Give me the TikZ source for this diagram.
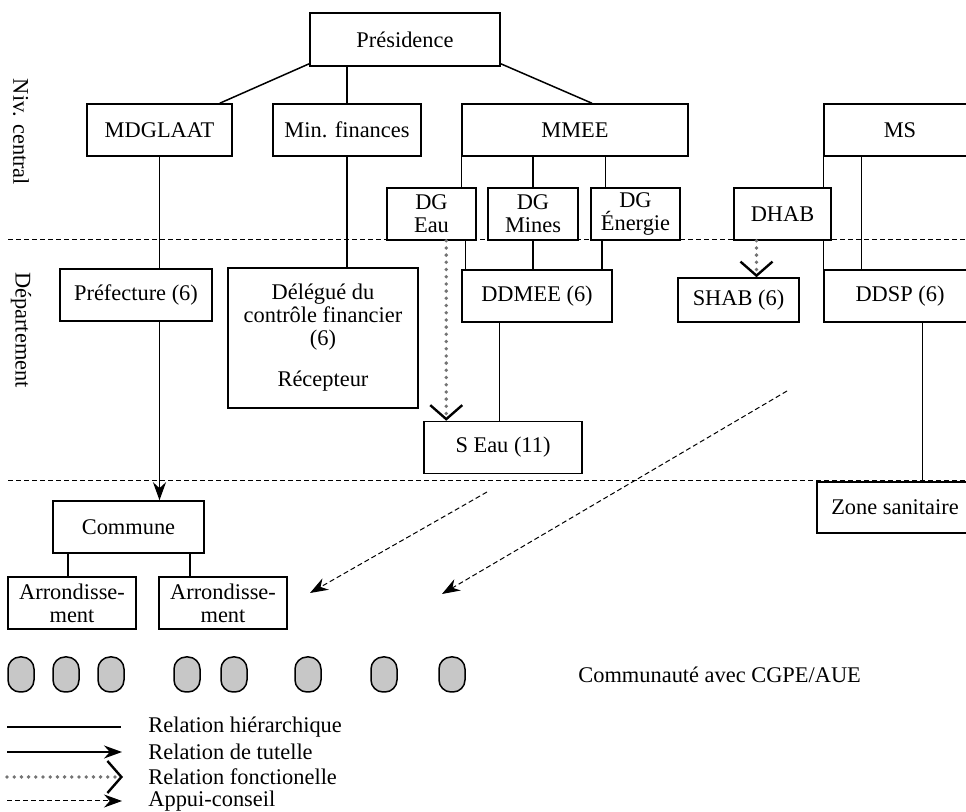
\documentclass[tikz,border=0pt]{standalone}
\usepackage{fontspec}
\setmainfont{Liberation Serif}
\usetikzlibrary{arrows.meta}
\usetikzlibrary{calc}

\begin{document}
\begin{tikzpicture}[x=0.5pt, y=-0.5pt, line width=0.75pt, font=\fontsize{11.2}{11.5}\selectfont]
	\tikzstyle{box}=[draw, rectangle, inner sep=0pt, minimum height=26pt, align=center]
	\tikzstyle{level}=[line width=0.5pt, dash pattern=on 2.5pt off 1.5pt]
	\tikzstyle{tutelle}=[-{Stealth[length=9pt,width=6.5pt]}]
	\tikzstyle{fonct}=[draw=black!55, line width=1.9pt, line cap=round, dash pattern=on 0pt off 3.6pt, -{Straight Barb[black, line width=1.2pt, length=7pt, width=16pt]}]
	\tikzstyle{conseil}=[line width=0.5pt, dash pattern=on 2.5pt off 1.5pt, -{Stealth[length=9pt,width=6.5pt]}]
	\tikzstyle{commu}=[draw, fill=black!22, rounded corners=6pt, minimum width=13pt, minimum height=17.5pt, inner sep=0pt]

	\useasboundingbox (0,0) rectangle (966,812);
	\clip (0,0) rectangle (966,812);

	% Niveau central
	\node[box, minimum width=95pt, minimum height=26.5pt] (pres) at (405,39.5) {Présidence};
	\node[box, minimum width=72.5pt] (mdg) at (159.5,130) {MDGLAAT};
	\node[box, minimum width=74pt] (minf) at (347,130) {Min. finances};
	\node[box, minimum width=113pt] (mmee) at (575,130) {MMEE};
	\node[box, minimum width=76pt] (ms) at (900,130) {MS};
	\node[box, minimum width=44.5pt] (dgeau) at (431.5,214) {DG\\Eau};
	\node[box, minimum width=45pt] (dgmines) at (533,214) {DG\\Mines};
	\node[box, minimum width=44.5pt] (dgen) at (635.5,214) {DG\\Énergie};
	\node[box, minimum width=48.5pt] (dhab) at (782.5,214) {DHAB};

	% Departement
	\node[box, minimum width=76pt] (pref) at (136,295) {Préfecture (6)};
	\node[box, minimum width=95pt, minimum height=70pt] (deleg) at (323,338) {Délégué du\\contrôle financier\\(6)\\[9pt]Récepteur};
	\node[box, minimum width=75pt] (ddmee) at (537,296) {DDMEE (6)};
	\node[box, minimum width=60.5pt, minimum height=22pt] (shab) at (738.5,300) {SHAB (6)};
	\node[box, minimum width=76pt] (ddsp) at (900,296) {DDSP (6)};
	\node[box, minimum width=79pt] (seau) at (503,447.5) {S Eau (11)};

	% Commune
	\node[box, minimum width=78pt, minimum height=25.5pt] (zone) at (895,507.5) {Zone sanitaire};
	\node[box, minimum width=75.5pt] (commune) at (128.5,527) {Commune};
	\node[box, minimum width=64pt] (arr1) at (72,603) {Arrondisse-\\ment};
	\node[box, minimum width=64pt] (arr2) at (223,603) {Arrondisse-\\ment};

	% Communautes
	\foreach \cx [count=\i] in {21,66,111,187,234,308,384,452}
		\node[commu] (cm\i) at (\cx,674.5) {};
	\node[anchor=west] (cgpe) at (571,675) {Communauté avec CGPE/AUE};

	% Level labels and separators
	\node[rotate=-90] (niv) at (21,132) {Niv. central};
	\node[rotate=-90] (dep) at (21,330) {Département};
	\draw[level] (8,240) -- (966,240);
	\draw[level] (8,481) -- (966,481);

	% Anchor points on the boxes
	\coordinate (e1) at ($(dgen.north)+(-30,0)$);
	\coordinate (e2) at ($(ddmee.north west)+(4,0)$);
	\coordinate (e3) at ($(ddmee.north east)+(-11,0)$);
	\coordinate (e4) at ($(seau.north west)+(23,0)$);
	\coordinate (e5) at ($(ddmee.south west)+(38,0)$);
	\coordinate (e6) at ($(ms.south west)+(38,0)$);
	\coordinate (e7) at ($(shab.north)+(18,0)$);
	\coordinate (e8) at ($(ddsp.south)+(22.5,0)$);
	\coordinate (e9) at ($(arr1.north)+(-4,0)$);
	\coordinate (e10) at ($(commune.south east)+(-15,0)$);

	% Relations hierarchiques
	\draw ($(pres.south west)+(0,-3)$) -- ($(mdg.north east)+(-13,0)$);
	\draw (minf.north) -- (minf.north |- pres.south);
	\draw ($(pres.south east)+(0,-3)$) -- ($(mmee.north)+(17,0)$);
	\draw (mmee.south west) -- (mmee.south west |- dgeau.north);
	\draw (dgmines.north) -- (dgmines.north |- mmee.south);
	\draw (e1) -- (e1 |- mmee.south);
	\draw (e2) -- (e2 |- dgeau.south);
	\draw (dgmines.south) -- (dgmines.south |- ddmee.north);
	\draw (e3) -- (e3 |- dgen.south);
	\draw (e5) -- (e5 |- seau.north);
	\draw (ms.south west) -- (ms.south west |- dhab.north);
	\draw (ddsp.north west) -- (ddsp.north west |- dhab.south);
	\draw (e6) -- (e6 |- ddsp.north);
	\draw (e8) -- (e8 |- zone.north);
	\draw (mdg.south) -- (mdg.south |- pref.north);
	\draw (minf.south) -- (minf.south |- deleg.north);
	\draw (e9) -- (e9 |- commune.south);
	\draw (e10) -- (e10 |- arr2.north);

	% Tutelle, fonctionelle
	\draw[tutelle] (mdg.south |- pref.south) -- (mdg.south |- commune.north);
	\draw[fonct] (e4 |- dgeau.south) -- (e4);
	\draw[fonct] (e7 |- dhab.south) -- (e7);

	% Appui-conseil
	\coordinate (a1) at (487,492);
	\coordinate (b1) at (310,593);
	\coordinate (a2) at (787,391);
	\coordinate (b2) at (442,594);
	\draw[conseil] (a1) -- (b1);
	\draw[conseil] (a2) -- (b2);

	% Legend
	\node[anchor=west] (lg1) at (141,727) {Relation hiérarchique};
	\node[anchor=west] (lg2) at (141,752) {Relation de tutelle};
	\node[anchor=west] (lg3) at (141,777) {Relation fonctionelle};
	\node[anchor=west] (lg4) at (141,801) {Appui-conseil};
	\draw ($(lg1.west)+(-134,0)$) -- ($(lg1.west)+(-20,0)$);
	\draw[tutelle] ($(lg2.west)+(-134,0)$) -- ($(lg2.west)+(-19,0)$);
	\draw[fonct] ($(lg3.west)+(-134,0)$) -- ($(lg3.west)+(-18,0)$);
	\draw[conseil] ($(lg4.west)+(-134,0)$) -- ($(lg4.west)+(-19,0)$);
\end{tikzpicture}
\end{document}
